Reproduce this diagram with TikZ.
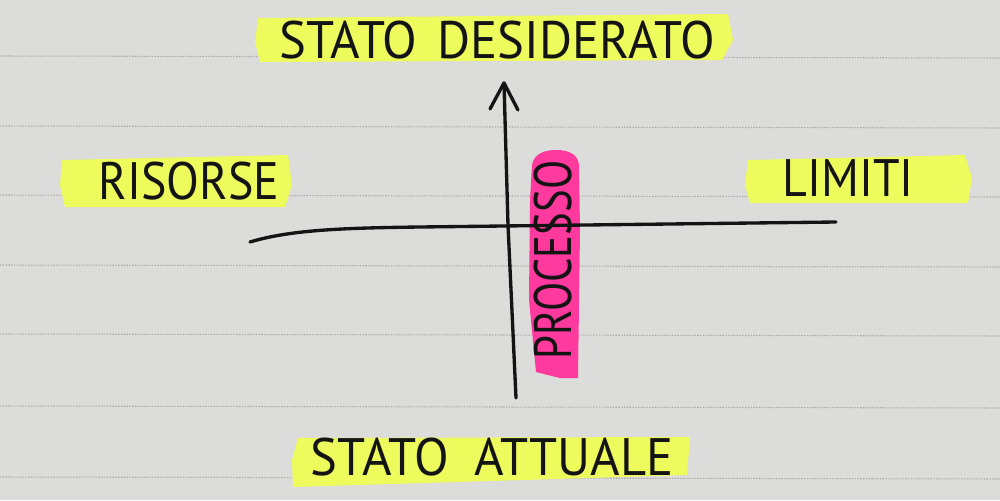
\documentclass[tikz,border=0pt]{standalone}
\usepackage{fontspec}
\setmainfont{PT Sans}
\usetikzlibrary{arrows.meta}
\definecolor{paper}{HTML}{DCDCDA}
\definecolor{rule}{HTML}{A8A8A8}
\definecolor{hiyellow}{HTML}{EEFB5C}
\definecolor{hipink}{HTML}{FF3A9E}
\definecolor{ink}{HTML}{141414}
\tikzset{
  hand/.style={font=\fontsize{30}{32}\selectfont, text=ink, inner sep=0pt},
  ruled/.style={rule, line width=0.6pt, dash pattern=on 0.8pt off 0.8pt},
  pen/.style={ink, line width=1.9pt, line cap=round, line join=round},
  yhl/.style={fill=hiyellow, draw=none},
  phl/.style={fill=hipink, draw=none}
}
\begin{document}
\begin{tikzpicture}[x=0.02cm,y=-0.02cm]
\useasboundingbox (0,0) rectangle (1000,500);
\fill[paper] (0,0) rectangle (1000,500);
% ruled lines
\foreach \yy in {56,126,195,265,334,406,477}
  \draw[ruled] (0,\yy) -- (1000,\yy+2);
% highlighters
\fill[yhl] (258,18) -- (728,14) -- (733,40) -- (722,60) -- (260,62) -- (255,42) -- cycle;
\fill[yhl] (62,160) -- (150,158) -- (288,155) -- (292,185) -- (285,207) -- (65,207) -- (60,185) -- cycle;
\fill[yhl] (748,160) -- (965,155) -- (972,178) -- (968,203) -- (750,203) -- (745,185) -- cycle;
\fill[yhl] (298,438) -- (690,437) -- (687,475) -- (293,487) -- (292,460) -- cycle;
\fill[phl] (532,165) .. controls (534,152) and (548,150) .. (556,150) .. controls (570,150) and (578,155) .. (579,165) -- (580,230) -- (578,378) -- (560,378) -- (536,372) -- (529,300) -- (530,200) -- cycle;
% texts
\node[hand] (desired) at (497,40) {\scalebox{0.96}[1]{STATO\hspace{0.4em}DESIDERATO}};
\node[hand] (resources) at (189,181) {\scalebox{0.91}[1]{RISORSE}};
\node[hand] (limits) at (848,178) {\scalebox{0.91}[1]{LIMITI}};
\node[hand] (current) at (492,457) {\scalebox{0.96}[1]{STATO\hspace{0.5em}ATTUALE}};
\node[hand, rotate=90] (process) at (553,260) {\scalebox{0.81}[1]{PROCESSO}};
% axes
\coordinate (vbot) at (516,398);
\coordinate (vtop) at (504,83);
\coordinate (hleft) at (250,242);
\coordinate (hright) at (836,222);
\draw[pen] (vbot) -- (508,225) -- (vtop);
\draw[pen] (vtop) -- (490,109);
\draw[pen] (vtop) -- (518,110);
\draw[pen] (hleft) .. controls (290,230) and (340,228) .. (420,227) -- (hright);
\end{tikzpicture}
\end{document}
